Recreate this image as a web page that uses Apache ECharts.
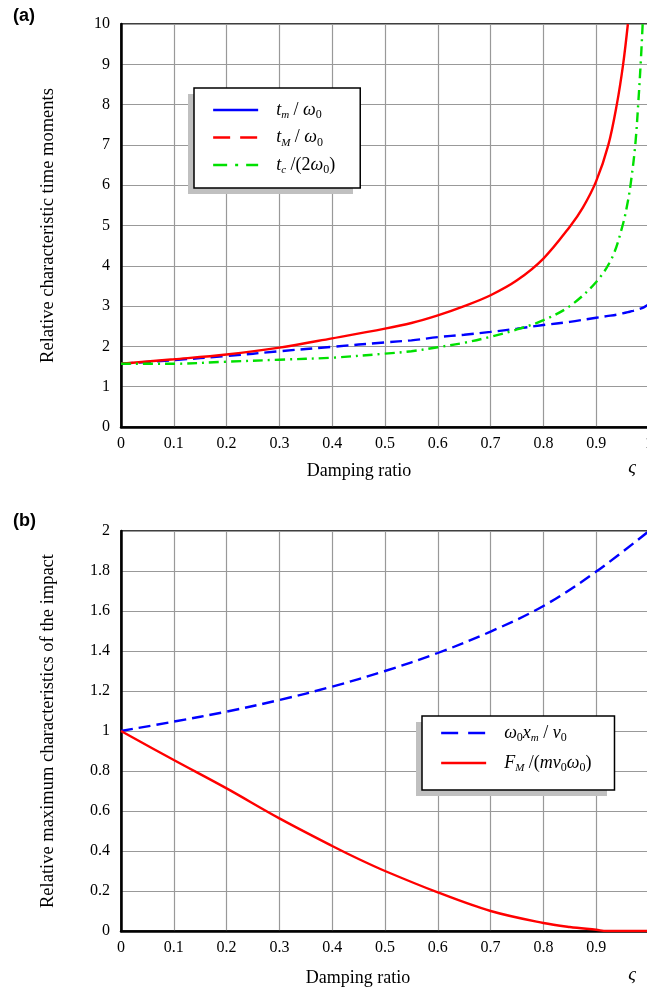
<!DOCTYPE html>
<html>
<head>
<meta charset="utf-8">
<script src="https://cdn.jsdelivr.net/npm/echarts@6/dist/echarts.min.js"></script>
<style>
  html, body { margin: 0; padding: 0; background: #fff; }
  #main { width: 647px; height: 992px; }
</style>
</head>
<body>
<div id="main"></div>
<script>
// (a) relative characteristic time moments
const zetaM = [0, 0.1, 0.2, 0.3, 0.4, 0.5, 0.55, 0.6, 0.65, 0.7, 0.75, 0.8, 0.85, 0.9, 0.92, 0.94, 0.95, 0.96, 0.97, 0.98, 0.99, 1.0];
const tmValues = [1.57, 1.66, 1.76, 1.88, 1.99, 2.1, 2.15, 2.23, 2.29, 2.36, 2.44, 2.53, 2.61, 2.71, 2.75, 2.79, 2.82, 2.85, 2.88, 2.92, 2.97, 3.05];

const zetaBigM = [0, 0.1, 0.2, 0.3, 0.4, 0.5, 0.55, 0.6, 0.65, 0.7, 0.75, 0.8, 0.85, 0.875, 0.9, 0.923, 0.939, 0.951, 0.96];
const tBigMValues = [1.57, 1.68, 1.8, 1.97, 2.2, 2.44, 2.58, 2.77, 3.0, 3.27, 3.64, 4.18, 4.97, 5.45, 6.1, 7.0, 8.0, 9.0, 10.0];

const zetaC = [0, 0.1, 0.2, 0.3, 0.4, 0.5, 0.55, 0.6, 0.65, 0.7, 0.75, 0.8, 0.85, 0.9, 0.93, 0.95, 0.96, 0.966, 0.974, 0.98, 0.985, 0.988];
const tcValues = [1.57, 1.57, 1.62, 1.67, 1.72, 1.82, 1.88, 1.98, 2.09, 2.24, 2.42, 2.65, 3.0, 3.6, 4.2, 5.0, 5.6, 6.1, 7.0, 8.1, 9.2, 10.0];

// (b) relative maximum characteristics of the impact
const zetaX = [0, 0.1, 0.2, 0.3, 0.4, 0.5, 0.6, 0.7, 0.8, 0.9, 1.0];
const xmValues = [1.0, 1.047, 1.097, 1.155, 1.222, 1.3, 1.39, 1.497, 1.625, 1.797, 2.0];

const zetaF = [0, 0.1, 0.2, 0.3, 0.4, 0.45, 0.5, 0.6, 0.7, 0.8, 0.85, 0.9, 0.92, 1.0];
const fmValues = [1.0, 0.855, 0.713, 0.563, 0.425, 0.36, 0.3, 0.193, 0.1, 0.04, 0.02, 0.006, 0, 0];

const xTicks = { min: 0, max: 1, interval: 0.1 };
const yTicksA = { min: 0, max: 10, interval: 1 };
const yTicksB = { min: 0, max: 2, interval: 0.2 };

const serif = 'Liberation Serif';

function pairs(xs, ys) {
  return xs.map((x, i) => [x, ys[i]]);
}

const legendNames = {
  tm: '{i|t}{s|m}{n| / }{i|ω}{z|0}',
  tM: '{i|t}{s|M}{n| / }{i|ω}{z|0}',
  tc: '{i|t}{s|c}{n| /(2}{i|ω}{z|0}{n|)}',
  xm: '{i|ω}{z|0}{i|x}{s|m}{n| / }{i|v}{z|0}',
  FM: '{i|F}{s|M}{n| /(}{i|mv}{z|0}{i|ω}{z|0}{n|)}'
};

const richMath = {
  i: { fontFamily: serif, fontStyle: 'italic', fontSize: 18, lineHeight: 22, color: '#000' },
  n: { fontFamily: serif, fontSize: 18, lineHeight: 22, color: '#000' },
  s: { fontFamily: serif, fontStyle: 'italic', fontSize: 11, lineHeight: 12, verticalAlign: 'bottom', color: '#000' },
  z: { fontFamily: serif, fontSize: 12, lineHeight: 12, verticalAlign: 'bottom', color: '#000' }
};

function xAxisCfg(gridIndex, showMax) {
  return {
    type: 'value', gridIndex: gridIndex,
    min: xTicks.min, max: xTicks.max, interval: xTicks.interval,
    axisLine: { show: true, onZero: false, lineStyle: { color: '#000', width: 2.5 } },
    axisTick: { show: false },
    axisLabel: { color: '#000', fontFamily: serif, fontSize: 16, margin: 9, showMaxLabel: showMax },
    splitLine: { show: true, lineStyle: { color: '#999', width: 1.2 } }
  };
}

function yAxisCfg(gridIndex, ticks, name) {
  return {
    type: 'value', gridIndex: gridIndex,
    min: ticks.min, max: ticks.max, interval: ticks.interval,
    name: name, nameLocation: 'middle', nameGap: 63,
    nameTextStyle: { color: '#000', fontFamily: serif, fontSize: 18.5 },
    axisLine: { show: true, onZero: false, lineStyle: { color: '#000', width: 2.5 } },
    axisTick: { show: false },
    axisLabel: { color: '#000', fontFamily: serif, fontSize: 16, margin: 11 },
    splitLine: { show: true, lineStyle: { color: '#999', width: 1.2 } }
  };
}

function lineSeries(name, xi, data, color, type) {
  return {
    name: name, type: 'line', xAxisIndex: xi, yAxisIndex: xi,
    data: data, showSymbol: false, symbol: 'none',
    smooth: 0.35,
    lineStyle: { color: color, width: 2.4, type: type },
    itemStyle: { color: color },
    z: 3
  };
}

function legendItem(name, color, type) {
  return {
    name: name,
    itemStyle: { color: 'rgba(0,0,0,0)', borderWidth: 0, opacity: 0 },
    lineStyle: { type: type, color: color, width: 2.3, opacity: 1 }
  };
}

function legendCfg(left, top, names, padding, gap) {
  return {
    orient: 'vertical', left: left, top: top, z: 6,
    data: names,
    itemWidth: 45, itemHeight: 14, itemGap: gap,
    padding: padding,
    backgroundColor: '#fff', borderColor: '#000', borderWidth: 1.5,
    selectedMode: false,
    formatter: n => legendNames[n],
    textStyle: { padding: [0, 0, 0, 13], rich: richMath }
  };
}

const myChart = echarts.init(document.getElementById('main'));

const gridBase = { left: 121, width: 528, show: true, borderColor: '#000', borderWidth: 1.5, containLabel: false, outerBoundsMode: 'none' };

const option = {
  backgroundColor: '#fff',
  animation: false,
  grid: [
    Object.assign({ top: 24, height: 403 }, gridBase),
    Object.assign({ top: 531, height: 400 }, gridBase)
  ],
  xAxis: [xAxisCfg(0, true), xAxisCfg(1, false)],
  yAxis: [
    yAxisCfg(0, yTicksA, 'Relative characteristic time moments'),
    yAxisCfg(1, yTicksB, 'Relative maximum characteristics of the impact')
  ],
  legend: [
    legendCfg(194, 88, [
      legendItem('tm', '#0000ff', 'solid'),
      legendItem('tM', '#ff0000', [17, 10]),
      legendItem('tc', '#00e000', [14, 8, 3, 8])
    ], [13, 25, 12, 18], 7.5),
    legendCfg(422, 716, [
      legendItem('xm', '#0000ff', [17, 10]),
      legendItem('FM', '#ff0000', 'solid')
    ], [8, 23, 16, 18], 10)
  ],
  graphic: [
    // legend drop shadows
    { type: 'rect', z: 5, shape: { x: 188, y: 94, width: 165, height: 100 }, style: { fill: '#c0c0c0' } },
    { type: 'rect', z: 5, shape: { x: 416, y: 722, width: 191, height: 74 }, style: { fill: '#c0c0c0' } },
    { type: 'text', left: 13, top: 7, style: { text: '(a)', font: 'bold 18px "Liberation Sans"', fill: '#000' } },
    { type: 'text', left: 13, top: 512, style: { text: '(b)', font: 'bold 18px "Liberation Sans"', fill: '#000' } },
    { type: 'text', x: 359, y: 471, style: { text: 'Damping ratio', font: '18px "Liberation Serif"', fill: '#000', align: 'center', verticalAlign: 'middle' } },
    { type: 'text', x: 358, y: 978, style: { text: 'Damping ratio', font: '18px "Liberation Serif"', fill: '#000', align: 'center', verticalAlign: 'middle' } },
    { type: 'text', x: 632, y: 468, style: { text: 'ς', font: 'italic 19px "Liberation Serif"', fill: '#000', align: 'center', verticalAlign: 'middle' } },
    { type: 'text', x: 632, y: 975, style: { text: 'ς', font: 'italic 19px "Liberation Serif"', fill: '#000', align: 'center', verticalAlign: 'middle' } }
  ],
  series: [
    lineSeries('tm', 0, pairs(zetaM, tmValues), '#0000ff', [12, 6]),
    lineSeries('tM', 0, pairs(zetaBigM, tBigMValues), '#ff0000', 'solid'),
    lineSeries('tc', 0, pairs(zetaC, tcValues), '#00e000', [10, 5, 2, 5]),
    lineSeries('xm', 1, pairs(zetaX, xmValues), '#0000ff', [12, 6]),
    lineSeries('FM', 1, pairs(zetaF, fmValues), '#ff0000', 'solid')
  ]
};

myChart.setOption(option);
</script>
</body>
</html>
